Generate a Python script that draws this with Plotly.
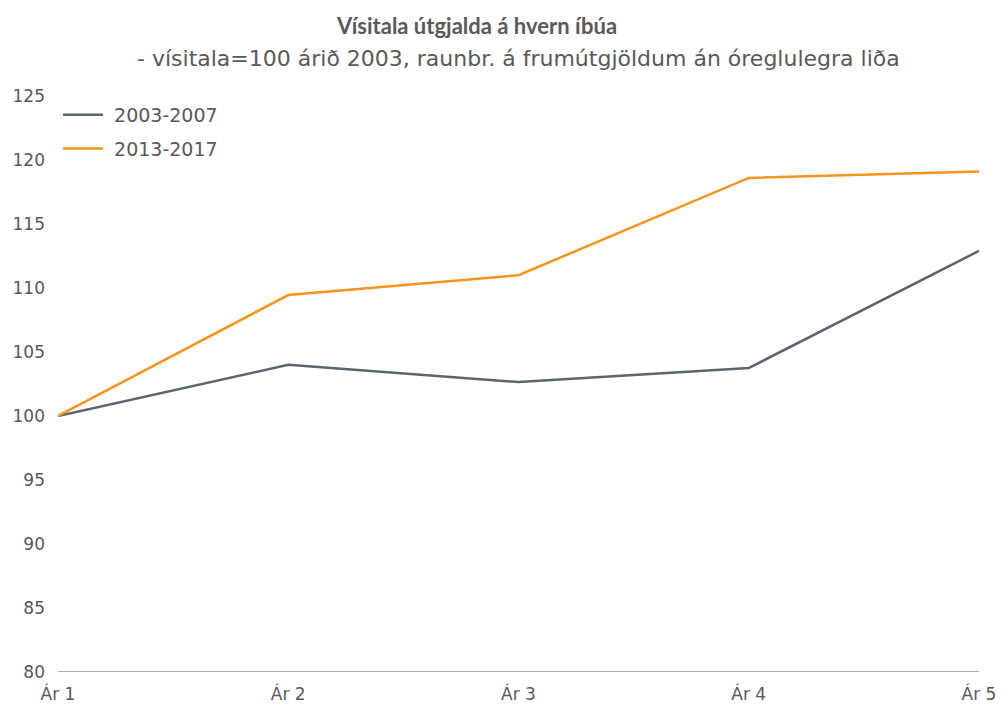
import plotly.graph_objects as go

categories = ["Ár 1", "Ár 2", "Ár 3", "Ár 4", "Ár 5"]
series_2003 = [100.0, 104.0, 102.65, 103.75, 112.9]
series_2013 = [100.0, 109.45, 111.0, 118.6, 119.1]
y_ticks = [80, 85, 90, 95, 100, 105, 110, 115, 120, 125]

font_family = "DejaVu Sans, sans-serif"
text_color = "#595959"

fig = go.Figure()
fig.add_trace(
    go.Scatter(x=categories, y=series_2003, mode="lines", name="\u00a02003-2007",
               legendgroup="a", line=dict(color="#5a6570", width=2.5))
)
fig.add_trace(
    go.Scatter(x=categories, y=series_2013, mode="lines", name="\u00a02013-2017",
               legendgroup="b", line=dict(color="#f7941d", width=2.5))
)

# Title and subtitle as annotations
fig.add_annotation(
    x=0.454, y=1.0, xref="paper", yref="paper", yshift=71, yanchor="middle",
    text="<b>Vísitala útgjalda á hvern íbúa</b>", showarrow=False,
    font=dict(size=22, color=text_color, family="Lato, sans-serif"),
)
fig.add_annotation(
    x=0.5005, y=1.0, xref="paper", yref="paper", yshift=38, yanchor="middle",
    text="- vísitala=100 árið 2003, raunbr. á frumútgjöldum án óreglulegra liða", showarrow=False,
    font=dict(size=22, color=text_color, family=font_family),
)

fig.update_layout(
    width=1002,
    height=708,
    margin=dict(l=58, r=23, t=96, b=36),
    plot_bgcolor="white",
    paper_bgcolor="white",
    font=dict(family=font_family, size=17, color=text_color),
    legend=dict(x=0.0, y=1.0, xanchor="left", yanchor="top", bgcolor="rgba(0,0,0,0)",
                font=dict(size=19, color=text_color), tracegroupgap=6, itemwidth=40),
    showlegend=True,
)
fig.update_xaxes(
    showgrid=False, zeroline=False, showline=False, range=[0, 4], automargin=False,
    tickfont=dict(size=17, color=text_color), ticks="", ticklabelstandoff=10,
)
fig.update_yaxes(
    range=[80, 125], tickvals=y_ticks, showgrid=False, zeroline=False, automargin=False,
    showline=False, tickfont=dict(size=17, color=text_color), ticks="",
    ticklabelstandoff=12,
)
# Baseline at 80
fig.add_shape(type="line", xref="paper", yref="y", x0=0, x1=1, y0=80, y1=80,
              line=dict(color="#8c9196", width=1.5))

fig.write_html("out.html", config={"displayModeBar": False},
               post_script="document.body.style.margin='0';")
